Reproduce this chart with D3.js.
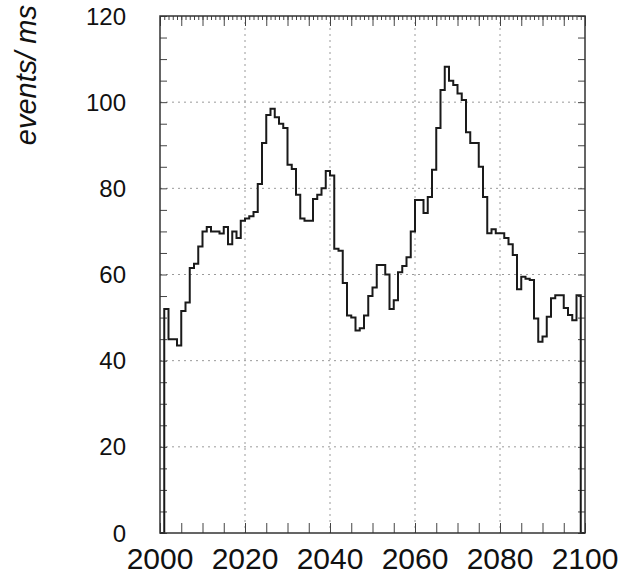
<!DOCTYPE html>
<html>
<head>
<meta charset="utf-8">
<script src="https://cdn.jsdelivr.net/npm/d3@7"></script>
<style>
  html, body { margin: 0; padding: 0; background: #fff; }
  svg { display: block; }
  text { font-family: "Liberation Sans", Arial, Helvetica, sans-serif; fill: #111; }
</style>
</head>
<body>
<svg id="chart" width="620" height="579"></svg>
<script>
// ---- data ----
const binStarts = d3.range(2000, 2100); // 1 ms bins
const counts = [
  0, 52, 45, 45, 43.5, 51.5, 53.5, 61.5, 62.5, 66.5,
  70, 71, 70, 70, 69.5, 71, 67, 70, 68.5, 72.5,
  73, 73.5, 74.5, 81, 90.5, 97, 98.5, 96.5, 95, 94,
  85.5, 84.5, 78.5, 73, 72.5, 72.5, 77.5, 78.5, 80, 84,
  83, 66, 65.5, 58, 50.5, 50, 47, 47.5, 50.5, 55,
  57, 62.2, 62.2, 60, 52, 54, 60.5, 62, 64, 70,
  77.3, 77.3, 74.3, 78, 84.3, 94, 102.8, 108.2, 105, 104,
  102, 100.5, 93, 90.5, 90.5, 85, 78, 69.6, 70.5, 69.6,
  69.6, 68.5, 67, 64.5, 56.6, 59.5, 59, 58.7, 49.8, 44.4,
  45.6, 50.2, 54.5, 55.2, 55.2, 52.2, 50.6, 49.4, 55.2, 0
];
const xTickValues = [2000, 2020, 2040, 2060, 2080, 2100];
const yTickValues = [0, 20, 40, 60, 80, 100, 120];
const yTitle = "events/ ms";

// ---- layout ----
const L = 160, R = 585, T = 16, B = 533;
const svg = d3.select("#chart");
const x = d3.scaleLinear().domain([2000, 2100]).range([L, R]);
const y = d3.scaleLinear().domain([0, 120]).range([B, T]);

// grid (dotted)
const grid = svg.append("g").attr("stroke", "#9a9a9a").attr("stroke-width", 1).attr("stroke-dasharray", "2,4");
xTickValues.filter(v => v > 2000 && v < 2100).forEach(v => {
  grid.append("line").attr("x1", x(v)).attr("x2", x(v)).attr("y1", T).attr("y2", B);
});
yTickValues.filter(v => v > 0 && v < 120).forEach(v => {
  grid.append("line").attr("x1", L).attr("x2", R).attr("y1", y(v)).attr("y2", y(v));
});

// ticks via d3 axes (inward)
const minorX = d3.range(2000, 2101, 5);
const tinyX = d3.range(2000, 2101, 1);
const minorY = d3.range(0, 121, 5);

function styleAxis(g) {
  g.select(".domain").remove();
  g.selectAll("line").attr("stroke", "#444").attr("stroke-width", 1);
  g.selectAll("text").remove();
}
svg.append("g").attr("transform", `translate(0,${B})`)
  .call(d3.axisBottom(x).tickValues(minorX).tickSize(-10)).call(styleAxis);
svg.append("g").attr("transform", `translate(0,${T})`)
  .call(d3.axisTop(x).tickValues(minorX).tickSize(-10)).call(styleAxis);
svg.append("g").attr("transform", `translate(0,${T})`)
  .call(d3.axisTop(x).tickValues(tinyX).tickSize(-4)).call(styleAxis);
svg.append("g").attr("transform", `translate(${L},0)`)
  .call(d3.axisLeft(y).tickValues(minorY).tickSize(-7)).call(styleAxis);
svg.append("g").attr("transform", `translate(${R},0)`)
  .call(d3.axisRight(y).tickValues(minorY).tickSize(-7)).call(styleAxis);

// histogram step line
const pts = binStarts.map((b, i) => [b, counts[i]]);
pts.push([2100, 0]);
const line = d3.line().x(d => x(d[0])).y(d => y(d[1])).curve(d3.curveStepAfter);
svg.append("path").attr("d", line(pts))
  .attr("fill", "none").attr("stroke", "#1a1a1a").attr("stroke-width", 2).attr("stroke-linejoin", "miter");

// frame
svg.append("rect").attr("x", L).attr("y", T).attr("width", R - L).attr("height", B - T)
  .attr("fill", "none").attr("stroke", "#333").attr("stroke-width", 1.5);

// tick labels
svg.append("g").selectAll("text").data(xTickValues).join("text")
  .attr("x", d => x(d)).attr("y", 569)
  .attr("text-anchor", "middle").attr("font-size", 30)
  .text(d => d);
svg.append("g").selectAll("text").data(yTickValues).join("text")
  .attr("x", 126).attr("y", d => y(d)).attr("dy", "0.36em")
  .attr("text-anchor", "end").attr("font-size", 24)
  .text(d => d);

// y title
svg.append("text")
  .attr("transform", "translate(36,5) rotate(-90)")
  .attr("text-anchor", "end").attr("font-size", 29).attr("font-style", "italic")
  .text(yTitle);
</script>
</body>
</html>
